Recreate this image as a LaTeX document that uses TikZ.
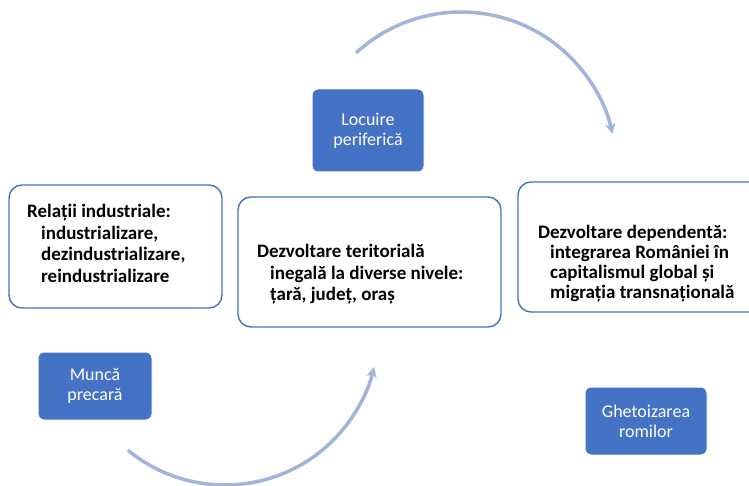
\documentclass[tikz,border=0pt]{standalone}
\usepackage{fontspec}
\setmainfont{Carlito}
\usetikzlibrary{arrows.meta,calc}
\definecolor{boxblue}{RGB}{68,114,196}
\definecolor{arcblue}{RGB}{163,180,218}
\tikzset{
  whitebox/.style={draw=boxblue,line width=1.4pt,fill=white,rounded corners=13pt,inner sep=0pt},
  bluebox/.style={draw=white,line width=1pt,fill=boxblue,rounded corners=6pt,text=white,
    font=\fontsize{18}{20}\selectfont,align=center,inner sep=0pt},
  boxtext/.style={anchor=north west,inner sep=0pt,align=left,font=\bfseries\fontsize{19}{21.5}\selectfont},
  flow/.style={draw=arcblue,line width=3.5pt,-{Stealth[length=10pt,width=10pt,inset=2pt]}}
}
\begin{document}
\begin{tikzpicture}[x=1pt,y=-1pt]
\useasboundingbox (0,0) rectangle (749,486);
\clip (0,0) rectangle (749,486);
\fill[white] (0,0) rectangle (749,486);
% arcs
\coordinate (ctop) at (461,167);
\coordinate (cbot) at (225,332);
\draw[flow] ($(ctop)+(-132.6:155)$) arc[start angle=-132.6,end angle=-12.3,radius=155];
\draw[flow] ($(cbot)+(129.4:153)$) arc[start angle=129.4,end angle=13.2,radius=153];
% white boxes
\node[whitebox,minimum width=213pt,minimum height=123pt] (rel) at (115.5,246.5) {};
\node[whitebox,minimum width=263pt,minimum height=130pt] (dezv) at (369.5,262) {};
\node[whitebox,minimum width=250pt,minimum height=130pt] (dep) at (643,247) {};
\node[boxtext] (reltext) at (27,204) {Relații industriale:\\\hspace*{14pt}industrializare,\\\hspace*{14pt}dezindustrializare,\\\hspace*{14pt}reindustrializare};
\node[boxtext] (dezvtext) at (257,244) {Dezvoltare teritorială\\\hspace*{13pt}inegală la diverse nivele:\\\hspace*{13pt}țară, județ, oraș};
\node[boxtext,font=\bfseries\fontsize{19}{20}\selectfont] (deptext) at (538,225) {Dezvoltare dependentă:\\\hspace*{12pt}integrarea României în\\\hspace*{12pt}capitalismul global și\\\hspace*{12pt}migrația transnațională};
% blue boxes
\node[bluebox,minimum width=112pt,minimum height=83pt] (loc) at (368,130.5) {Locuire\\periferică};
\node[bluebox,minimum width=114pt,minimum height=68pt] (munca) at (95,386) {Muncă\\precară};
\node[bluebox,minimum width=122pt,minimum height=68pt] (ghet) at (646,421) {Ghetoizarea\\romilor};
\end{tikzpicture}
\end{document}
